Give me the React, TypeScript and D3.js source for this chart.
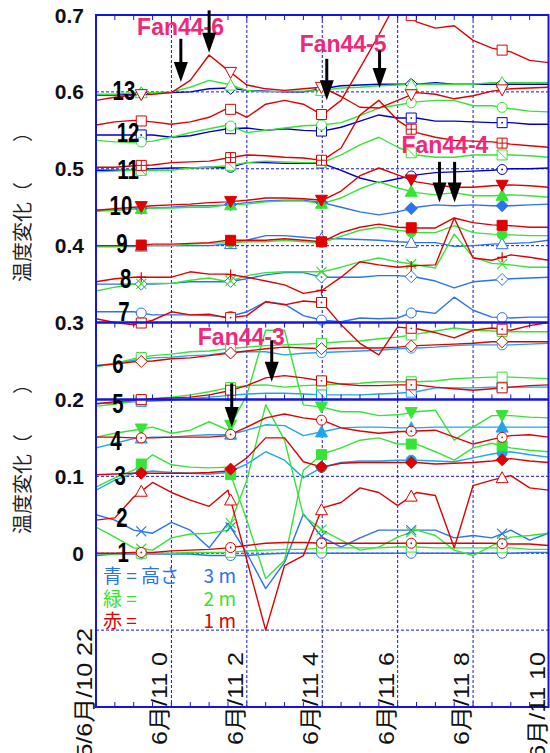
import React from "react";
import * as d3 from "d3";

// hours after 6/10 22:00, one reading every 30 min
const hours = [0, 0.5, 1, 1.5, 2, 2.5, 3, 3.5, 4, 4.5, 5, 5.5, 6, 6.5, 7, 7.5, 8, 8.5, 9, 9.5, 10, 10.5, 11, 11.5, 12];
const markerHours = [1.2, 3.57, 5.98, 8.36, 10.77];

const yTicks = [0.7, 0.6, 0.5, 0.4, 0.3, 0.2, 0.1, 0];
const yTickLabels = ["0.7", "0.6", "0.5", "0.4", "0.3", "0.2", "0.1", "0"];
const yGrid = [0.6, 0.5, 0.4, 0.1, 0, -0.1];
const panelEdges = [0.3, 0.2];

const xTicks = [0, 2, 4, 6, 8, 10, 12];
const xTickLabels = ["05/6月/10 22", "6月/11 0", "6月/11 2", "6月/11 4", "6月/11 6", "6月/11 8", "6月/11 10"];

// sensor 13 .. 1 : blue = 3 m, green = 2 m, red = 1 m
const blue13 = [.596,.596,.597,.599,.599,.600,.604,.605,.602,.601,.600,.600,.604,.608,.609,.610,.610,.610,.612,.610,.610,.610,.610,.610,.610];
const green13 = [.597,.597,.599,.599,.600,.606,.615,.610,.602,.600,.601,.601,.602,.605,.606,.608,.609,.610,.610,.610,.610,.612,.612,.612,.612];
const red13 = [.589,.593,.596,.597,.599,.615,.648,.628,.609,.604,.602,.604,.606,.594,.580,.579,.589,.599,.597,.591,.595,.601,.604,.605,.606];

const blue12 = [.544,.544,.544,.544,.541,.543,.548,.552,.553,.550,.552,.550,.549,.554,.562,.570,.566,.566,.562,.562,.561,.560,.560,.558,.558];
const green12 = [.537,.535,.534,.536,.541,.547,.552,.557,.547,.550,.553,.556,.557,.560,.569,.579,.583,.587,.589,.589,.582,.582,.578,.575,.574];
const red12 = [.557,.561,.563,.561,.558,.561,.567,.579,.567,.584,.589,.584,.570,.589,.631,.674,.720,.691,.683,.686,.667,.657,.652,.641,.638];

const blue11 = [.498,.498,.498,.500,.501,.501,.502,.501,.508,.508,.507,.507,.507,.498,.488,.482,.487,.492,.495,.496,.497,.498,.500,.500,.501];
const green11 = [.496,.497,.498,.498,.498,.501,.502,.504,.508,.510,.509,.508,.508,.518,.531,.541,.528,.518,.515,.515,.518,.518,.518,.517,.515];
const red11 = [.502,.502,.504,.505,.508,.509,.510,.514,.518,.517,.515,.514,.511,.527,.570,.589,.563,.547,.541,.537,.536,.535,.532,.530,.528];

const blue10 = [.445,.446,.448,.449,.450,.452,.452,.453,.456,.458,.459,.459,.456,.450,.444,.440,.444,.450,.453,.452,.453,.452,.452,.453,.454];
const green10 = [.446,.446,.448,.449,.449,.450,.450,.453,.454,.457,.458,.458,.455,.462,.474,.483,.475,.469,.466,.469,.465,.465,.466,.465,.463];
const red10 = [.446,.448,.450,.452,.453,.454,.456,.457,.459,.462,.462,.461,.459,.471,.491,.501,.492,.483,.479,.476,.476,.478,.479,.478,.476];

const blue9 = [.399,.399,.399,.400,.400,.400,.400,.402,.407,.413,.413,.411,.409,.409,.408,.407,.405,.404,.404,.399,.400,.402,.403,.404,.407];
const green9 = [.399,.399,.400,.400,.400,.402,.403,.404,.405,.405,.407,.405,.404,.412,.420,.424,.420,.417,.417,.426,.417,.415,.414,.413,.413];
const red9 = [.400,.400,.400,.402,.402,.403,.404,.407,.407,.407,.409,.407,.405,.417,.424,.428,.424,.423,.423,.436,.430,.427,.426,.424,.424];

const blue8 = [.350,.350,.350,.350,.351,.353,.353,.353,.357,.362,.365,.365,.359,.359,.359,.361,.361,.359,.354,.345,.353,.355,.357,.358,.359];
const green8 = [.341,.346,.350,.351,.351,.355,.358,.353,.361,.365,.366,.366,.366,.372,.379,.384,.379,.375,.371,.415,.385,.377,.375,.372,.372];
const red8 = [.353,.357,.359,.359,.359,.366,.363,.363,.359,.354,.349,.338,.342,.359,.379,.375,.372,.374,.375,.436,.384,.381,.388,.385,.381];

const blue7 = [.314,.314,.314,.310,.310,.310,.309,.307,.314,.327,.324,.309,.303,.301,.306,.305,.306,.315,.312,.333,.316,.307,.306,.307,.307];
const red7 = [.305,.300,.297,.303,.314,.310,.311,.306,.309,.327,.323,.328,.326,.297,.273,.258,.294,.292,.287,.280,.290,.293,.290,.296,.300];

const blue6 = [.244,.247,.251,.254,.255,.257,.258,.261,.262,.262,.258,.260,.261,.262,.263,.264,.266,.267,.268,.270,.271,.271,.271,.272,.273];
const green6 = [.242,.247,.253,.257,.259,.262,.263,.266,.268,.270,.271,.272,.273,.275,.276,.279,.281,.285,.289,.293,.290,.289,.288,.288,.288];
const red6 = [.244,.246,.249,.250,.253,.254,.257,.260,.263,.266,.268,.267,.266,.267,.267,.267,.268,.270,.271,.272,.273,.275,.275,.275,.275];

const blue5 = [.195,.195,.197,.198,.199,.201,.203,.205,.207,.208,.208,.207,.206,.206,.206,.207,.208,.210,.215,.215,.215,.216,.216,.216,.216];
const green5 = [.191,.194,.198,.201,.203,.206,.210,.215,.218,.219,.216,.218,.219,.220,.221,.223,.223,.223,.224,.227,.228,.229,.229,.228,.227];
const red5 = [.194,.197,.199,.201,.202,.203,.206,.211,.218,.228,.231,.228,.224,.220,.218,.218,.219,.219,.216,.214,.212,.214,.216,.218,.219];

const blue4 = [.137,.143,.149,.151,.151,.153,.154,.154,.160,.167,.166,.153,.158,.163,.164,.164,.163,.163,.164,.164,.164,.164,.164,.164,.164];
const green4 = [.151,.156,.160,.164,.156,.160,.171,.160,.206,.290,.290,.193,.190,.184,.184,.179,.180,.184,.186,.147,.164,.179,.179,.177,.176];
const red4 = [.151,.151,.150,.150,.151,.151,.151,.153,.164,.176,.181,.176,.173,.163,.159,.156,.158,.159,.160,.151,.142,.148,.153,.154,.151];

const blue3 = [.082,.095,.104,.107,.105,.104,.103,.105,.116,.132,.121,.098,.112,.118,.120,.120,.121,.121,.120,.119,.124,.129,.132,.128,.125];
const green3 = [.086,.098,.108,.128,.115,.112,.111,.112,.043,-.033,-.009,.108,.129,.137,.147,.150,.142,.142,.132,.121,.137,.143,.137,.134,.132];
const red3 = [.102,.103,.104,.104,.104,.104,.105,.107,.124,.150,.150,.119,.112,.117,.118,.118,.118,.118,.116,.117,.118,.120,.123,.120,.118];

const blue2 = [.050,.043,.030,.026,.040,.030,.007,.039,.000,-.046,-.012,.051,.021,.008,.020,.030,.030,.030,.030,.020,.023,.020,.030,.017,.026];
const green2 = [.034,.021,.007,.004,.020,.025,.026,.030,.095,.193,.147,.049,.030,.017,.004,.008,.021,.030,.023,.004,-.003,.010,.021,.023,.026];
const red2 = [.043,.046,.073,.092,.079,.069,.061,.082,-.009,-.100,-.016,-.003,.059,.066,.085,.079,.062,.079,.075,.007,.088,.095,.101,.085,.082];

const blue1 = [-.003,-.001,-.001,-.001,-.001,-.001,-.003,-.003,-.003,-.001,.000,.000,.000,.000,.000,.000,.000,.000,.000,.000,.000,.000,.000,.001,.001];
const green1 = [-.001,-.001,.000,.000,.000,.001,.001,.001,.003,.004,.005,.005,.007,.007,.007,.007,.008,.008,.007,.007,.007,.007,.007,.005,.005];
const red1 = [.000,.000,.001,.001,.003,.004,.005,.007,.010,.013,.014,.014,.013,.013,.013,.013,.013,.013,.013,.013,.013,.013,.012,.012,.010];

// sensor number labels
const sensorIds = [13, 12, 11, 10, 9, 8, 7, 6, 5, 4, 3, 2, 1];
const sensorLabelHour = [0.74, 0.85, 0.85, 0.66, 0.69, 0.79, 0.74, 0.58, 0.58, 0.53, 0.64, 0.69, 0.72];
const sensorLabelValue = [0.589, 0.535, 0.487, 0.44, 0.391, 0.345, 0.302, 0.234, 0.182, 0.134, 0.089, 0.034, -0.011];

// fan events: label and two arrows each [hour, top value, tip value]
const fanNames = ["Fan44-6", "Fan44-5", "Fan44-4", "Fan44-3"];
const fanLabelHour = [1.09, 5.4, 8.1, 2.7];
const fanLabelValue = [0.674, 0.652, 0.521, 0.271];
const fanArrows = [
  [[2.25, 0.669, 0.613], [3.0, 0.706, 0.651]],
  [[6.12, 0.643, 0.589], [7.52, 0.654, 0.605]],
  [[9.11, 0.509, 0.456], [9.51, 0.509, 0.456]],
  [[3.6, 0.221, 0.164], [4.66, 0.277, 0.223]],
];

const legendLeft = ["青 = 高さ", "緑 =", "赤 ="];
const legendRight = ["3 m", "2 m", "1 m"];

const RED = "#e00000";
const GREEN = "#36e436";
const DBLUE = "#0000cc";
const BLUE = "#2a72f0";
const CYAN = "#1ea5ee";
const FRAME = "#1414e0";
const PINK = "#f0287a";

const series = [
  { color: DBLUE, marker: "diamond", values: blue13 },
  { color: GREEN, marker: "triUp", values: green13 },
  { color: RED, marker: "triDown", values: red13 },
  { color: DBLUE, marker: "squareDot", values: blue12 },
  { color: GREEN, marker: "circle", values: green12 },
  { color: RED, marker: "square", values: red12 },
  { color: DBLUE, marker: "circleDot", values: blue11 },
  { color: GREEN, marker: "squareSlash", values: green11 },
  { color: RED, marker: "squareGrid", values: red11 },
  { color: BLUE, marker: "diamondF", values: blue10 },
  { color: GREEN, marker: "triUpF", values: green10 },
  { color: RED, marker: "triDownF", values: red10 },
  { color: BLUE, marker: "triUp", values: blue9 },
  { color: GREEN, marker: "circleF", values: green9 },
  { color: RED, marker: "squareF", values: red9 },
  { color: BLUE, marker: "diamondDot", values: blue8 },
  { color: GREEN, marker: "cross", values: green8 },
  { color: RED, marker: "plus", values: red8 },
  { color: BLUE, marker: "circle", values: blue7 },
  { color: RED, marker: "squareDot", values: red7 },
  { color: CYAN, marker: "circle", values: blue6 },
  { color: GREEN, marker: "square", values: green6 },
  { color: RED, marker: "diamond", values: red6 },
  { color: CYAN, marker: "squareSlash", values: blue5 },
  { color: GREEN, marker: "square", values: green5 },
  { color: RED, marker: "squareDot", values: red5 },
  { color: CYAN, marker: "triUpF", values: blue4 },
  { color: GREEN, marker: "triDownF", values: green4 },
  { color: RED, marker: "circleDot", values: red4 },
  { color: CYAN, marker: "circleF", values: blue3 },
  { color: GREEN, marker: "squareF", values: green3 },
  { color: RED, marker: "diamondF", values: red3 },
  { color: BLUE, marker: "cross", values: blue2 },
  { color: GREEN, marker: "cross", values: green2 },
  { color: RED, marker: "triUp", values: red2 },
  { color: BLUE, marker: "circle", values: blue1 },
  { color: GREEN, marker: "square", values: green1 },
  { color: RED, marker: "circleDot", values: red1 },
];

const W = 550;
const H = 753;
const x = d3.scaleLinear().domain([0, 12]).range([96, 548.5]);
const y = d3.scaleLinear().domain([-0.2, 0.7]).range([707, 15]);

const valueAt = (vals: number[], t: number) => d3.scaleLinear().domain(hours).range(vals)(t);

function Marker({ type, cx, cy, color }: { type: string; cx: number; cy: number; color: string }) {
  const s = 5;
  const open = { fill: "white", stroke: color, strokeWidth: 1 };
  const full = { fill: color, stroke: color, strokeWidth: 1 };
  const dot = <circle cx={cx} cy={cy} r={0.9} fill={color} />;
  const sq = `M${cx - s},${cy - s}h${2 * s}v${2 * s}h${-2 * s}Z`;
  const di = `M${cx},${cy - s - 1}L${cx + s + 1},${cy}L${cx},${cy + s + 1}L${cx - s - 1},${cy}Z`;
  const tu = `M${cx},${cy - s - 1}L${cx + s + 1},${cy + s}L${cx - s - 1},${cy + s}Z`;
  const td = `M${cx},${cy + s + 1}L${cx + s + 1},${cy - s}L${cx - s - 1},${cy - s}Z`;
  switch (type) {
    case "square": return <path d={sq} {...open} />;
    case "squareF": return <path d={sq} {...full} />;
    case "squareDot": return <g><path d={sq} {...open} />{dot}</g>;
    case "squareSlash": return <path d={`${sq}M${cx - s},${cy - s}L${cx + s},${cy + s}`} {...open} />;
    case "squareGrid": return <path d={`${sq}M${cx},${cy - s}v${2 * s}M${cx - s},${cy}h${2 * s}`} {...open} />;
    case "diamond": return <path d={di} {...open} />;
    case "diamondF": return <path d={di} {...full} />;
    case "diamondDot": return <g><path d={di} {...open} />{dot}</g>;
    case "triUp": return <path d={tu} {...open} />;
    case "triUpF": return <path d={tu} {...full} />;
    case "triDown": return <path d={td} {...open} />;
    case "triDownF": return <path d={td} {...full} />;
    case "circle": return <circle cx={cx} cy={cy} r={s} {...open} />;
    case "circleF": return <circle cx={cx} cy={cy} r={s} {...full} />;
    case "circleDot": return <g><circle cx={cx} cy={cy} r={s} {...open} />{dot}</g>;
    case "cross": return <path d={`M${cx - s},${cy - s}L${cx + s},${cy + s}M${cx - s},${cy + s}L${cx + s},${cy - s}`} stroke={color} strokeWidth={1.2} />;
    case "plus": return <path d={`M${cx - s},${cy}h${2 * s}M${cx},${cy - s}v${2 * s}`} stroke={color} strokeWidth={1.2} />;
    default: return null;
  }
}

export default function App() {
  const line = d3.line<number>().x((_, i) => x(hours[i])).y((d) => y(d));
  const layerOrder = [BLUE, CYAN, DBLUE, GREEN, RED];
  const ordered = layerOrder.flatMap((c) => series.filter((s) => s.color === c));
  const minorTicks = d3.range(1, 24).map((i) => i * 0.5);
  const [x0, x1] = x.range();
  const sans = "'Liberation Sans', Arial, sans-serif";
  const cjk = "'Noto Sans CJK JP', 'Noto Sans', sans-serif";
  const mixed = "'Liberation Sans', 'Noto Sans CJK JP', sans-serif";

  return (
    <div style={{ position: "absolute", left: 0, top: 0 }}>
      <svg width={W} height={H} style={{ display: "block", background: "white" }}>
        <defs>
          <clipPath id="plot">
            <rect x={x0} y={y(0.7)} width={x1 - x0} height={y(-0.2) - y(0.7)} />
          </clipPath>
        </defs>

        {/* grid */}
        {yGrid.map((v) => (
          <line key={`gy${v}`} x1={x0} x2={x1} y1={y(v)} y2={y(v)} stroke={FRAME} strokeWidth={1} strokeDasharray="3,2" />
        ))}
        {xTicks.slice(1, -1).map((h) => (
          <line key={`gx${h}`} x1={x(h)} x2={x(h)} y1={y(0.7)} y2={y(-0.2)} stroke={FRAME} strokeWidth={1} strokeDasharray="3,2" />
        ))}

        {/* data */}
        <g clipPath="url(#plot)">
          {ordered.map((s, i) => (
            <path key={`l${i}`} d={line(s.values) || ""} fill="none" stroke={s.color} strokeWidth={1.4} strokeLinejoin="round" />
          ))}
          {ordered.map((s, i) =>
            markerHours.map((t) => (
              <Marker key={`m${i}-${t}`} type={s.marker} cx={x(t)} cy={y(valueAt(s.values, t))} color={s.color} />
            ))
          )}
        </g>

        {/* frames */}
        <rect x={x0} y={y(0.7)} width={x1 - x0} height={y(-0.2) - y(0.7)} fill="none" stroke={FRAME} strokeWidth={2} />
        {panelEdges.map((v) => (
          <line key={`pe${v}`} x1={x0} x2={x1} y1={y(v)} y2={y(v)} stroke={FRAME} strokeWidth={2.4} />
        ))}
        {minorTicks.map((h) => (
          <g key={`t${h}`} stroke={FRAME} strokeWidth={1}>
            <line x1={x(h)} x2={x(h)} y1={y(0.7)} y2={y(0.7) + 5} />
            <line x1={x(h)} x2={x(h)} y1={y(0.3)} y2={y(0.3) + 5} />
            <line x1={x(h)} x2={x(h)} y1={y(0.2)} y2={y(0.2) - 5} />
            <line x1={x(h)} x2={x(h)} y1={y(-0.2)} y2={y(-0.2) - 5} />
          </g>
        ))}

        {/* y tick labels */}
        {yTicks.map((v, i) => (
          <text key={`yl${v}`} x={84} y={y(v)} dy="0.36em" textAnchor="end" fontFamily={sans} fontWeight="bold" fontSize={21} fill="#111">
            {yTickLabels[i]}
          </text>
        ))}

        {/* y titles */}
        {[202, 454].map((cy) => (
          <text key={`yt${cy}`} transform={`translate(30,${cy}) rotate(-90)`} textAnchor="middle" fontFamily={cjk} fontSize={20} fill="#222">
            温度変化（　　）
          </text>
        ))}

        {/* x tick labels */}
        {xTicks.map((h, i) => (
          <text key={`xl${h}`} transform={`translate(${x(h) - 4},${i === 0 ? 628 : 652}) rotate(-90) scale(1.14,1)`} textAnchor="end" fontFamily={mixed} fontSize={22} fill="#111">
            {xTickLabels[i]}
          </text>
        ))}

        {/* sensor numbers */}
        {sensorIds.map((id, i) => (
          <text key={`s${id}`} transform={`translate(${x(sensorLabelHour[i])},${y(sensorLabelValue[i])}) scale(0.85,1.15)`} textAnchor="middle" fontFamily={sans} fontWeight="bold" fontSize={24} fill="#000">
            {id}
          </text>
        ))}

        {/* fan annotations */}
        {fanNames.map((name, i) => (
          <g key={name}>
            <text x={x(fanLabelHour[i])} y={y(fanLabelValue[i])} fontFamily={sans} fontWeight="bold" fontSize={23} fill={PINK}>
              {name}
            </text>
            {fanArrows[i].map(([h, top, tip], j) => {
              const ax = x(h);
              const ty = y(tip);
              return (
                <g key={j}>
                  <line x1={ax} x2={ax} y1={y(top)} y2={ty - 12} stroke="#000" strokeWidth={3} />
                  <path d={`M${ax - 7},${ty - 20}L${ax + 7},${ty - 20}L${ax},${ty}Z`} fill="#000" />
                </g>
              );
            })}
          </g>
        ))}

        {/* legend */}
        {legendLeft.map((t, i) => {
          const c = [BLUE, GREEN, RED][i];
          const by = 583 + i * 22.5;
          return (
            <g key={t} fontFamily={cjk} fontSize={19} fill={c}>
              <text x={103} y={by}>{t}</text>
              <text x={236} y={by} textAnchor="end">{legendRight[i]}</text>
            </g>
          );
        })}
      </svg>
    </div>
  );
}
